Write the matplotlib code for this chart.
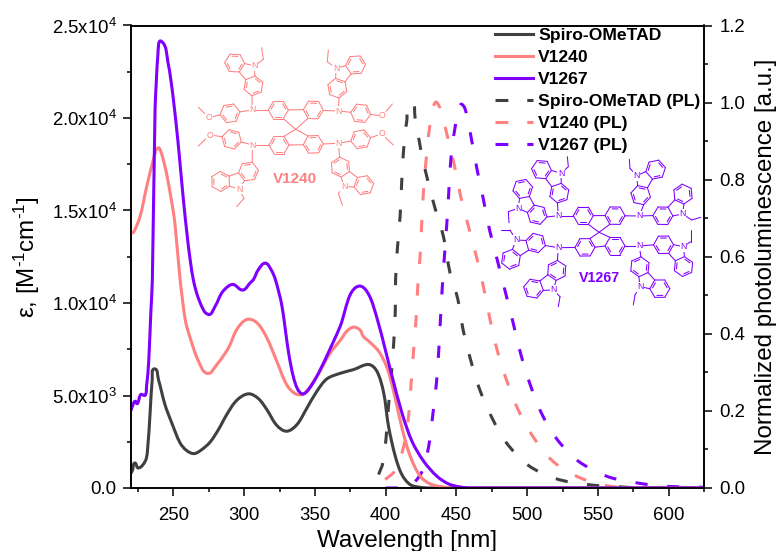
import numpy as np
import matplotlib
matplotlib.use("Agg")
import matplotlib.pyplot as plt
from matplotlib.path import Path
from matplotlib.patches import PathPatch
from matplotlib.lines import Line2D
from matplotlib.ticker import MultipleLocator, FixedLocator, FixedFormatter

plt.rcParams['font.family'] = ['Liberation Sans', 'DejaVu Sans']
plt.rcParams['mathtext.fontset'] = 'custom'
plt.rcParams['mathtext.rm'] = 'Liberation Sans'
plt.rcParams['mathtext.default'] = 'regular'

BLACK, SALMON, PURPLE = '#404040', '#FF8080', '#8000FF'

spiro_wl = [220,221.2,222.6,225.2,230,231.6,233.5,235,236.6,239.4,244,248.8,254.7,259.4,264.6,270,276,281.8,287.7,294.8,303,310,316,323,330,337.3,344.4,351.4,358.5,367.9,377.3,388,393.8,398.6,402,406.8,411.5,417.4,424.5,431.6,625]
spiro_ab = [800,990,1350,1080,1440,1985,4060,5860,6440,5860,4510,3520,2435,2020,1860,2075,2490,3157,3970,4745,5090,4835,4240,3390,3070,3430,4330,5230,5900,6200,6400,6675,6310,5140,3340,1714,720,180,36,0,0]

v1240_wl = [220,221.7,226.4,231.1,235.8,238,240,244,247.7,251,254.7,258.3,261.8,267.7,274,280.7,288.9,294.8,301.9,309,316,323,330,336,342,351.4,360.9,367.9,372.6,377.3,382,384,388,395,401,405.6,411.5,417.4,424.5,431.6,441,448,625]
v1240_ab = [13800,13810,14680,16300,17745,18300,18375,17380,15940,14320,11275,9110,8118,6855,6190,6675,7577,8570,9110,8930,8118,6855,5590,5105,5090,6040,7306,7980,8480,8695,8530,8208,7938,7396,6494,5230,3247,1714,631,216,54,0,0]

v1267_wl = [220,221.2,222.9,224.5,226.9,230,231,232.5,234,235.1,237,239,241.5,246.2,249.7,253.3,256.8,260.3,264,268.9,274.8,279.5,284.2,288.9,292.5,299,304.3,306.6,310,314.9,319,322,326.7,331.4,336,340.8,345.5,353.8,367.9,375,381.6,388,393.8,399.7,404.5,411.5,418.6,426.9,436.3,444.6,452.8,460,625]
v1267_ab = [4200,4456,4690,4560,5050,5015,5500,6800,9470,11275,20450,23400,24145,22975,21170,18650,15760,13240,11275,10010,9380,9830,10550,10915,11000,10700,11095,11275,11800,12155,11800,11275,9830,7306,5680,5090,5320,6400,8750,10460,10915,10460,9200,7490,6040,4060,2525,1443,631,216,54,0,0]

spiro_pl_wl = [395,398,400.2,402,404,405.7,406.8,407,408.3,410.2,411.3,412.5,414.9,418,420.8,424.8,429,434.5,440.8,445.5,451,454.7,460,466.5,475.7,485.4,500.7,520.5,542.5,565,585,625]
spiro_pl = [.035,.065,.126,.212,.294,.377,.459,.54,.622,.705,.791,.869,.952,1.0,.96,.878,.809,.731,.653,.558,.49,.411,.333,.255,.178,.117,.059,.024,.009,.003,0,0]

v1240_pl_wl = [399.7,406.8,412.7,416.3,418,419.8,421.5,422.7,424.3,425.5,426.7,428.6,431,435,439,443,448.4,453,458.5,464.4,469,474,479,485.7,494,504,517.7,533.5,552,573,625]
v1240_pl = [.022,.046,.108,.19,.273,.36,.44,.523,.6,.688,.77,.852,.934,1.0,.98,.922,.84,.757,.679,.597,.524,.433,.355,.277,.2,.134,.071,.033,.009,0,0]

v1267_pl_wl = [400,409,414,420.3,425.7,430.4,433.3,435.9,437.5,438.7,440,441.5,443.2,444.6,446,448.8,453,456,460.4,464.4,469,473.4,479,484.5,490,495.3,501.7,510,521,536,556.6,577.9,600,625]
v1267_pl = [0,0,0,.015,.043,.108,.19,.273,.355,.437,.52,.6,.685,.767,.85,.93,.995,.985,.91,.83,.75,.67,.59,.51,.43,.35,.273,.195,.127,.07,.03,.013,.004,.002]

series_names = ['Spiro-OMeTAD', 'V1240', 'V1267']
x_ticks = [250, 300, 350, 400, 450, 500, 550, 600]
left_ticks = [0, 5000, 10000, 15000, 20000, 25000]
left_labels = ['0.0', '5.0x10$^{3}$', '1.0x10$^{4}$', '1.5x10$^{4}$', '2.0x10$^{4}$', '2.5x10$^{4}$']
right_ticks = [0, .2, .4, .6, .8, 1.0, 1.2]
right_labels = ['0.0', '0.2', '0.4', '0.6', '0.8', '1.0', '1.2']

W, H = 779, 551
fig = plt.figure(figsize=(W/100, H/100), dpi=100)
L, R, T, B = 131, 704, 25.5, 488
ax = fig.add_axes([L/W, 1-B/H, (R-L)/W, (B-T)/H])
ax2 = ax.twinx()
ax.set_zorder(3); ax2.set_zorder(2); ax.patch.set_visible(False)
ax.set_xlim(220, 625); ax.set_ylim(0, 25000); ax2.set_ylim(0, 1.2)

LW = 2.2
DASH = (0, (4.0, 6.4))

def smooth(a, xs, ys, color, ls='-'):
    """Draw the read values as one smooth curve: a Bezier path through the knots."""
    xs, ys = np.asarray(xs, float), np.asarray(ys, float)
    x0, x1 = a.get_xlim(); y0, y1 = a.get_ylim()
    sx, sy = (R-L)/(x1-x0), (B-T)/(y1-y0)
    P = np.c_[xs*sx, ys*sy]
    d = np.zeros_like(P)
    d[1:-1] = P[2:]-P[:-2]
    d[0] = P[1]-P[0]; d[-1] = P[-1]-P[-2]
    d /= np.maximum(np.hypot(*d.T)[:, None], 1e-9)
    seg = np.hypot(*(P[1:]-P[:-1]).T)[:, None]
    h = np.minimum(seg/3, 10)
    c1 = P[:-1]+d[:-1]*h
    c2 = P[1:]-d[1:]*h
    v = [P[0]]; codes = [Path.MOVETO]
    for i in range(len(seg)):
        v += [c1[i], c2[i], P[i+1]]; codes += [Path.CURVE4]*3
    v = np.array(v)/[sx, sy]
    a.add_patch(PathPatch(Path(v, codes), fc='none', ec=color, lw=LW, ls=ls,
                          capstyle='butt' if ls != '-' else 'round', joinstyle='round'))

smooth(ax2, spiro_pl_wl, spiro_pl, BLACK, DASH)
smooth(ax2, v1240_pl_wl, v1240_pl, SALMON, DASH)
smooth(ax2, v1267_pl_wl, v1267_pl, PURPLE, DASH)
smooth(ax, spiro_wl, spiro_ab, BLACK)
smooth(ax, v1240_wl, v1240_ab, SALMON)
smooth(ax, v1267_wl, v1267_ab, PURPLE)

ax.xaxis.set_major_locator(FixedLocator(x_ticks))
ax.xaxis.set_minor_locator(MultipleLocator(25))
ax.yaxis.set_major_locator(FixedLocator(left_ticks))
ax.yaxis.set_major_formatter(FixedFormatter(left_labels))
ax.yaxis.set_minor_locator(MultipleLocator(2500))
ax2.yaxis.set_major_locator(FixedLocator(right_ticks))
ax2.yaxis.set_major_formatter(FixedFormatter(right_labels))
ax2.yaxis.set_minor_locator(MultipleLocator(.1))
for a in (ax, ax2):
    a.tick_params(which='major', length=6, width=1.1, labelsize=13.4)
    a.tick_params(which='minor', length=3, width=1.1)
    for s in a.spines.values():
        s.set_linewidth(1.2)
ax.tick_params(axis='x', which='major', pad=7.5)
ax.tick_params(axis='y', which='major', pad=4.3)
ax2.tick_params(axis='y', which='major', pad=5)

LABEL = 17.4
ax.set_xlabel('Wavelength [nm]', fontsize=LABEL, va='baseline')
ax.xaxis.set_label_coords(0.4825, (B-547)/(B-T))
ax.set_ylabel('ε, [M$^{\u20101}$cm$^{\u20101}$]', fontsize=LABEL, va='center')
ax.yaxis.set_label_coords((26.5-L)/(R-L), 0.5)
ax2.set_ylabel('Normalized photoluminescence [a.u.]', fontsize=LABEL, va='center')
ax2.yaxis.set_label_coords((766-L)/(R-L), 0.5)

# legend
LEG_DASH = (0, (4.2, 6.2))
handles = [Line2D([], [], color=c, lw=LW, ls=s, dash_capstyle='butt')
           for s in ('-', LEG_DASH) for c in (BLACK, SALMON, PURPLE)]
labels = series_names + [n + ' (PL)' for n in series_names]
FS = 12.6
ax.legend(handles, labels, loc='upper left', bbox_to_anchor=(495/W, 1-27.5/H), bbox_transform=fig.transFigure,
          frameon=False, borderaxespad=0, borderpad=0, handlelength=38/(FS*100/72), handletextpad=0.29,
          labelspacing=0.39, prop={'family': 'Liberation Sans', 'weight': 'bold', 'size': FS})

# molecule sketches, decorative, drawn on a pixel-space overlay
ov = fig.add_axes([0, 0, 1, 1], zorder=1)
ov.set_xlim(0, W); ov.set_ylim(H, 0); ov.axis('off')
LM = 0.75

def line(a, b, c):
    ov.plot([a[0], b[0]], [a[1], b[1]], color=c, lw=LM, solid_capstyle='round')

def hexring(c, r, ang, col):
    t = np.radians(ang) + np.arange(6)*np.pi/3
    pts = np.c_[c[0]+r*np.cos(t), c[1]+r*np.sin(t)]
    for i in range(6):
        line(pts[i], pts[(i+1) % 6], col)
    k = np.asarray(c, float)
    for i in (0, 2, 4):
        p2 = k+(pts[i]-k)*.78; q2 = k+(pts[(i+1) % 6]-k)*.78
        line(p2+(q2-p2)*.12, q2-(q2-p2)*.12, col)
    return pts

def near(pts, p):
    return pts[np.argmin(np.hypot(*(pts-np.asarray(p)).T))]

def link(p, pts, col):
    line(p, near(pts, p), col)

def label_n(p, col, s='N'):
    ov.text(p[0], p[1], s, color=col, fontsize=6.3, ha='center', va='center',
            bbox=dict(fc='white', ec='none', pad=0.3), zorder=5)

def rot(u, deg):
    t = np.radians(deg)
    return np.array([u[0]*np.cos(t)-u[1]*np.sin(t), u[0]*np.sin(t)+u[1]*np.cos(t)])

def carbazole(amine, A, Bc, Ncz, eth, col, s):
    Ncz = np.asarray(Ncz, float); M = (np.asarray(A)+np.asarray(Bc))/2
    u = (Ncz-M)/np.hypot(*(Ncz-M))
    R5 = .851*s; PC = Ncz-u*R5
    v = [PC+rot(u, k)*R5 for k in (72, 144, -144, -72)]
    rings = []
    for p, q in ((v[0], v[1]), (v[3], v[2])):
        mid = (p+q)/2
        n = (mid-PC)/np.hypot(*(mid-PC))
        c = mid+n*s*.866
        rings.append((c, np.degrees(np.arctan2(p[1]-c[1], p[0]-c[0]))))
    for p, (c, ang) in zip((v[0], v[3]), rings):
        pts = hexring(c, s, ang, col)
        line(Ncz, p, col)
        if np.hypot(*(c-np.asarray(A))) < np.hypot(*(rings[0][0]+rings[1][0]-c-np.asarray(A))):
            link(amine, pts, col)
    line(v[1], v[2], col)
    line(Ncz, eth[0], col); line(eth[0], eth[1], col)
    label_n(Ncz, col)

def spiro_core(center, rings, amines, col, r):
    ps = []
    for c, a in zip(rings, amines):
        ang = np.degrees(np.arctan2(a[1]-c[1], a[0]-c[0]))
        ps.append(hexring(c, r, ang, col))
        link(a, ps[-1], col)
        link(center, ps[-1], col)
    for i, j in ((0, 1), (2, 3)):
        d = np.hypot(*(ps[i][:, None]-ps[j][None]).transpose(2, 0, 1))
        a, b = np.unravel_index(np.argmin(d), d.shape)
        line(ps[i][a], ps[j][b], col)

def z1(x, y):
    return (120+x/3, 10+y/3)

def zs(f, *p):
    return [f(*q) for q in p]

# V1240
c = SALMON; r = 10
am = zs(z1, (397, 300), (655, 303), (397, 405), (655, 400))
spiro_core(z1(527, 358), zs(z1, (475, 300), (580, 300), (477, 405), (580, 403)), am, c, r)
carb = [((400, 235), (338, 157), (403, 168), (430, 148), (425, 113)),
        ((650, 240), (712, 162), (648, 175), (622, 155), (625, 120)),
        ((385, 475), (298, 512), (357, 537), (372, 565), (350, 590)),
        ((660, 470), (738, 520), (672, 530), (655, 550), (667, 585))]
for a, k in zip(am, carb):
    carbazole(a, z1(*k[0]), z1(*k[1]), z1(*k[2]), (z1(*k[3]), z1(*k[4])), c, r)
meo = [((330, 310), (267, 323), (235, 292)), ((722, 310), (787, 318), (817, 282)),
       ((335, 388), (270, 375), (235, 408)), ((722, 388), (785, 372), (820, 405))]
for a, (ring, o, me) in zip(am, meo):
    ring, o, me = z1(*ring), z1(*o), z1(*me)
    ang = np.degrees(np.arctan2(a[1]-ring[1], a[0]-ring[0]))
    p = hexring(ring, r, ang, c)
    link(a, p, c); link(o, p, c); line(o, me, c)
    label_n(o, c, 'O')
for a in am:
    label_n(a, c)
ov.text(295, 179, 'V1240', color=c, fontsize=11, fontweight='bold', ha='center', va='center')

# V1267
def z2(x, y):
    return (380+x/3, 10+y/3)

c = PURPLE; r = 10
am = zs(z2, (535, 617), (778, 618), (535, 713), (778, 708))
spiro_core(z2(657, 667), zs(z2, (610, 617), (705, 617), (615, 712), (705, 708)), am, c, r)
carb = [(0, (540, 550), (480, 480), (543, 490), (565, 470), (562, 440)),
        (0, (470, 617), (428, 535), (415, 595), (385, 605), (387, 638)),
        (2, (465, 702), (395, 745), (408, 690), (390, 660), (362, 660)),
        (2, (535, 785), (458, 835), (520, 840), (540, 860), (535, 890)),
        (1, (775, 550), (835, 485), (770, 497), (750, 475), (748, 448)),
        (1, (850, 620), (908, 550), (908, 612), (935, 630), (962, 622)),
        (3, (850, 705), (910, 770), (910, 710), (932, 695), (932, 660)),
        (3, (775, 775), (840, 835), (780, 830), (765, 855), (760, 885))]
for k in carb:
    carbazole(am[k[0]], z2(*k[1]), z2(*k[2]), z2(*k[3]), (z2(*k[4]), z2(*k[5])), c, r)
for a in am:
    label_n(a, c)
ov.text(599, 278, 'V1267', color=c, fontsize=10.3, fontweight='bold', ha='center', va='center')

fig.savefig('out.png', dpi=100)
